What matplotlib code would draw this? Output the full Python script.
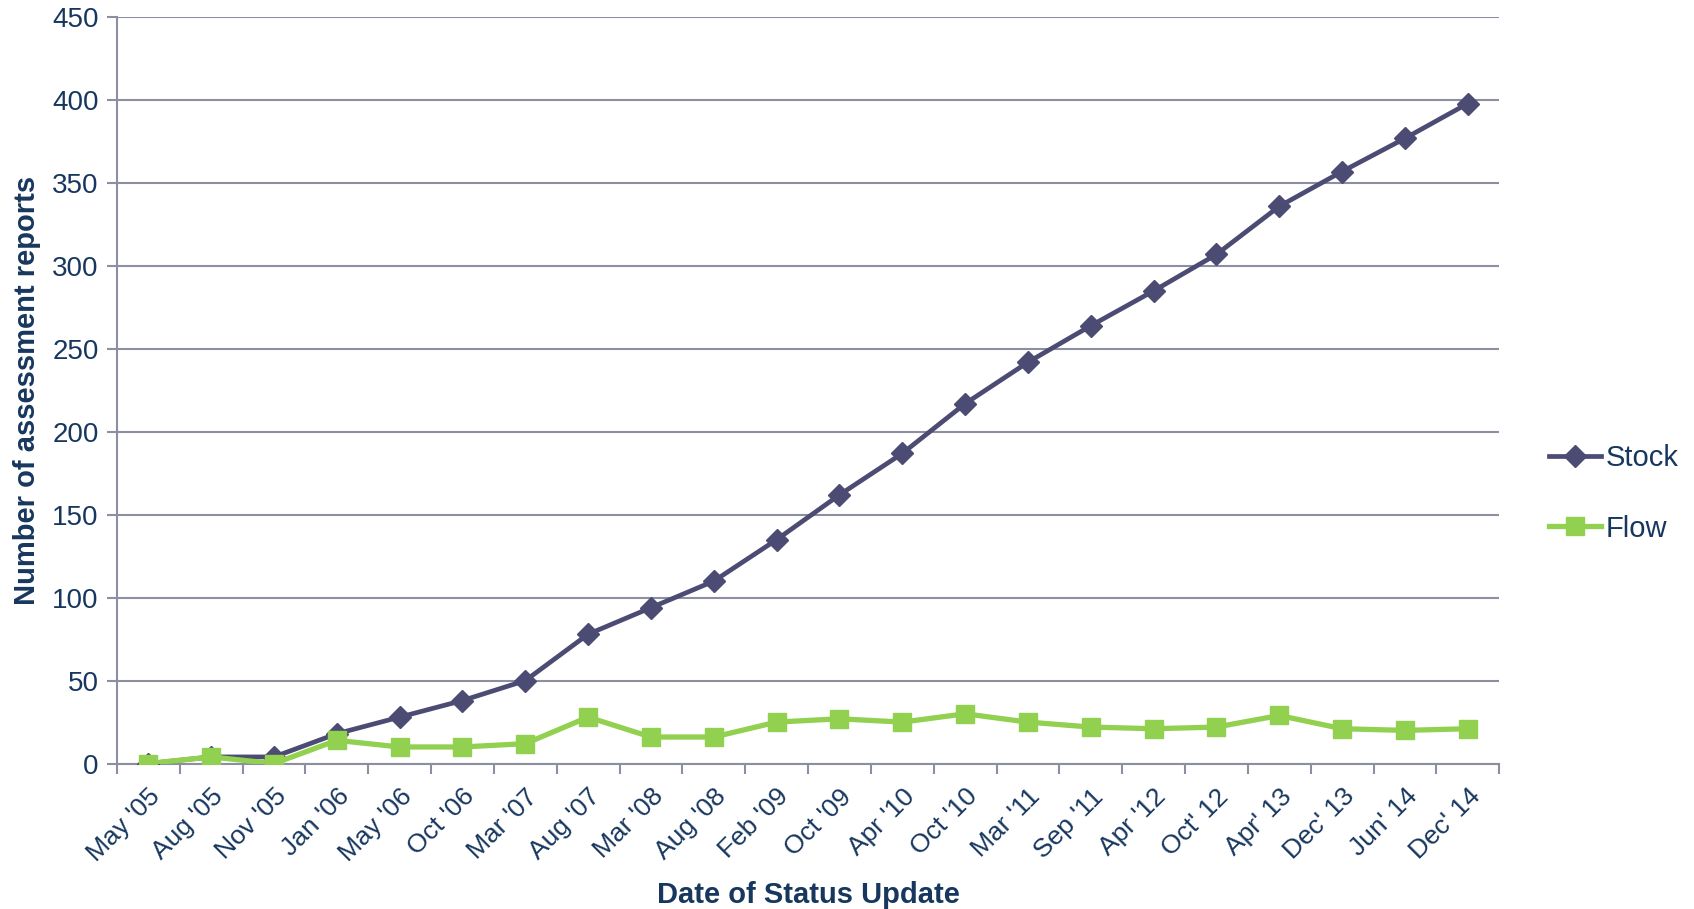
import matplotlib
matplotlib.use("Agg")
import matplotlib.pyplot as plt
import numpy as np

categories = ["May '05", "Aug '05", "Nov '05", "Jan '06", "May '06", "Oct '06",
              "Mar '07", "Aug '07", "Mar '08", "Aug '08", "Feb '09", "Oct '09",
              "Apr '10", "Oct '10", "Mar '11", "Sep '11", "Apr '12", "Oct' 12",
              "Apr' 13", "Dec' 13", "Jun' 14", "Dec' 14"]
stock = [0, 4, 4, 18, 28, 38, 50, 78, 94, 110, 135, 162, 187, 217, 242, 264,
         285, 307, 336, 357, 377, 398]
flow = [0, 4, 0, 14, 10, 10, 12, 28, 16, 16, 25, 27, 25, 30, 25, 22, 21, 22,
        29, 21, 20, 21]
y_ticks = [0, 50, 100, 150, 200, 250, 300, 350, 400, 450]

plt.rcParams['font.family'] = ['Liberation Sans', 'DejaVu Sans']
text_color = '#17375E'
grid_color = '#8C8FA1'
stock_color = '#4B4B74'
flow_color = '#92D050'

fig = plt.figure(figsize=(16.94, 9.09), dpi=100)
ax = fig.add_axes([0.069, 0.160, 0.816, 0.821])

x = np.arange(len(categories))
ax.plot(x, stock, color=stock_color, lw=3.4, marker='D', ms=11,
        label='Stock', zorder=3)
ax.plot(x, flow, color=flow_color, lw=3.8, marker='s', ms=13,
        label='Flow', zorder=4)

ax.set_xlim(-0.5, len(categories) - 0.5)
ax.set_ylim(0, 450)
ax.set_yticks(y_ticks)
ax.yaxis.grid(True, color=grid_color, lw=1.5)
ax.set_axisbelow(True)

ax.set_xticks(np.arange(len(categories) + 1) - 0.5)
ax.set_xticklabels([])
ax.set_xticks(x, minor=True)
ax.set_xticklabels(categories, minor=True, rotation=45, ha='right',
                   rotation_mode='anchor', fontsize=19, color=text_color)
ax.tick_params(axis='x', which='minor', length=0, pad=15)
ax.tick_params(axis='x', which='major', length=7, width=1.5, color=grid_color)
ax.tick_params(axis='y', length=7, width=1.5, color=grid_color,
               labelsize=20, labelcolor=text_color, pad=6)

for s in ['top', 'right']:
    ax.spines[s].set_visible(False)
for s in ['left', 'bottom']:
    ax.spines[s].set_color(grid_color)
    ax.spines[s].set_linewidth(1.5)

ax.set_ylabel('Number of assessment reports', fontsize=21, fontweight='bold',
              color=text_color, labelpad=8)
ax.set_xlabel('Date of Status Update', fontsize=21, fontweight='bold',
              color=text_color, labelpad=11)

leg = ax.legend(loc='center left', bbox_to_anchor=(1.017, 0.362), frameon=False,
                fontsize=21, labelspacing=1.45, handlelength=1.8,
                handletextpad=0.15, labelcolor=text_color)

fig.savefig('out.png', dpi=100)
